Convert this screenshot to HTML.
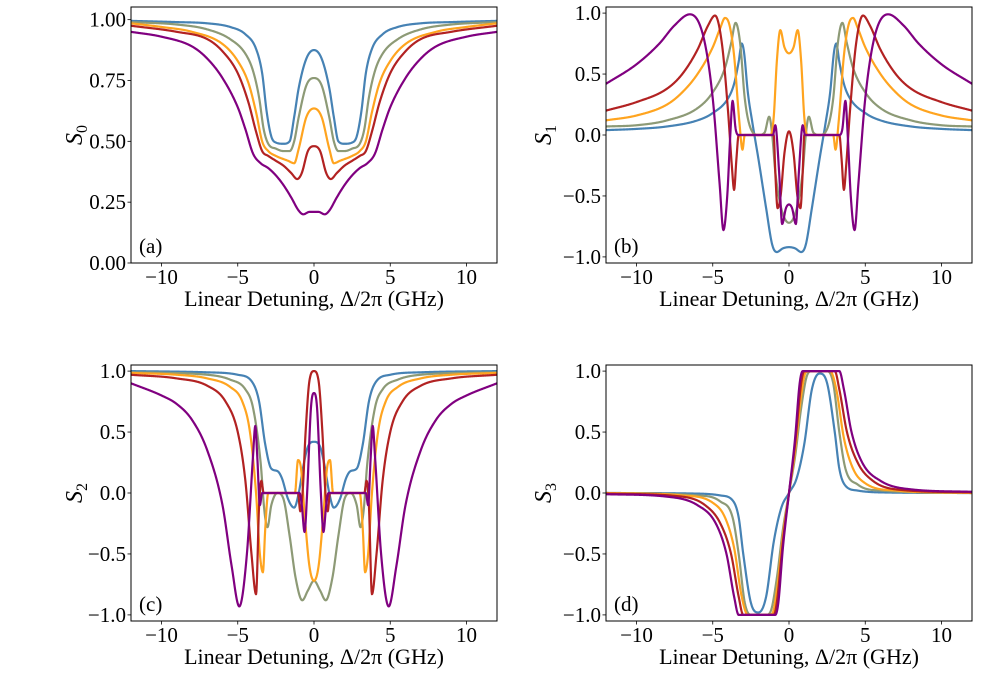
<!DOCTYPE html>
<html><head><meta charset="utf-8">
<style>
html,body{margin:0;padding:0;background:#fff;}
svg{display:block;font-family:"Liberation Serif",serif;}
</style></head>
<body>
<svg id="fig" width="1000" height="694" viewBox="0 0 1000 694" xmlns="http://www.w3.org/2000/svg"></svg>
<script>
// ---------- data (half-curves, x >= 0; panels a-c symmetric, d antisymmetric) ----------
const seriesNames = ["blue","olive","orange","red","purple"];
const seriesColors = ["#4682b4","#8d9a76","#ffa41f","#b22222","#800080"];
const xTicks = [-10,-5,0,5,10];
const xTickLabels = ["\u221210","\u22125","0","5","10"];
const aTicks = [0,0.25,0.5,0.75,1];
const aTickLabels = ["0.00","0.25","0.50","0.75","1.00"];
const bTicks = [-1,-0.5,0,0.5,1];
const bTickLabels = ["\u22121.0","\u22120.5","0.0","0.5","1.0"];

const a_blue=[[0,0.875],[0.5,0.84],[1,0.72],[1.3,0.6],[1.6,0.5],[2,0.49],[2.5,0.495],[2.8,0.52],[3.1,0.62],[3.4,0.78],[3.8,0.88],[4.5,0.94],[5.5,0.97],[7,0.985],[9,0.99],[12,0.995]];
const a_olive=[[0,0.76],[0.5,0.73],[1,0.6],[1.3,0.5],[1.6,0.46],[2,0.46],[2.5,0.47],[3,0.49],[3.3,0.55],[3.6,0.68],[4,0.79],[4.5,0.86],[5.5,0.92],[7,0.96],[9,0.98],[12,0.99]];
const a_orange=[[0,0.635],[0.5,0.6],[1,0.47],[1.3,0.41],[1.7,0.42],[2.5,0.44],[3,0.46],[3.4,0.5],[3.8,0.62],[4.3,0.74],[5,0.83],[6,0.9],[8,0.95],[10,0.97],[12,0.985]];
const a_red=[[0,0.48],[0.4,0.46],[0.8,0.37],[1.1,0.345],[1.5,0.37],[2,0.4],[2.5,0.42],[3,0.44],[3.4,0.46],[3.8,0.54],[4.3,0.66],[5,0.78],[6,0.87],[7,0.92],[9,0.95],[12,0.975]];
const a_purple=[[0,0.21],[0.3,0.21],[0.7,0.2],[1,0.215],[1.5,0.27],[2,0.32],[2.5,0.36],[3,0.39],[3.5,0.41],[4,0.45],[4.5,0.55],[5,0.64],[6,0.76],[7,0.84],[8,0.89],[10,0.93],[12,0.95]];

const b_blue=[[0,-0.92],[0.4,-0.93],[0.8,-0.96],[1.1,-0.9],[1.5,-0.6],[2,-0.2],[2.4,0.1],[2.7,0.35],[2.95,0.68],[3.1,0.75],[3.3,0.6],[3.6,0.42],[4,0.3],[5,0.18],[6,0.12],[8,0.07],[10,0.05],[12,0.04]];
const b_olive=[[0,-0.72],[0.3,-0.68],[0.6,-0.55],[0.9,-0.3],[1.1,0.0],[1.3,0.15],[1.6,0.02],[2,0.0],[2.5,0.05],[2.9,0.3],[3.2,0.75],[3.5,0.92],[3.8,0.75],[4.2,0.55],[5,0.35],[6,0.22],[8,0.12],[10,0.08],[12,0.07]];
const b_orange=[[0,0.67],[0.3,0.72],[0.57,0.86],[0.8,0.6],[1,0.15],[1.2,0.0],[2.9,0.0],[3.05,-0.12],[3.25,0.1],[3.6,0.65],[3.9,0.9],[4.2,0.96],[4.5,0.88],[5,0.72],[6,0.5],[7,0.35],[8,0.25],[10,0.16],[12,0.12]];
const b_red=[[0,0.03],[0.3,-0.15],[0.55,-0.5],[0.75,-0.6],[0.9,-0.3],[1.0,0.0],[3.3,0.0],[3.45,-0.2],[3.6,-0.45],[3.75,-0.25],[4.0,0.2],[4.4,0.75],[4.85,0.98],[5.3,0.9],[6,0.7],[7,0.5],[8,0.38],[10,0.27],[12,0.2]];
const b_purple=[[0,-0.57],[0.2,-0.6],[0.45,-0.73],[0.65,-0.3],[0.9,0.08],[1.05,0.0],[3.3,0.0],[3.5,0.05],[3.7,0.28],[3.85,0.0],[4.05,-0.5],[4.3,-0.78],[4.55,-0.4],[5,0.3],[5.6,0.8],[6.5,0.99],[7.5,0.9],[8.5,0.75],[10,0.58],[12,0.42]];

const c_blue=[[0,0.42],[0.4,0.38],[0.7,0.22],[1.0,0.0],[1.3,-0.12],[1.7,-0.05],[2.1,0.12],[2.4,0.18],[2.8,0.2],[3.2,0.4],[3.6,0.75],[4.0,0.9],[5,0.97],[7,0.99],[12,1.0]];
const c_olive=[[0,-0.72],[0.4,-0.8],[0.77,-0.88],[1.2,-0.7],[1.6,-0.35],[2,-0.05],[2.4,0.0],[2.8,-0.1],[3.05,-0.28],[3.25,-0.15],[3.5,0.25],[4,0.7],[4.5,0.85],[5.5,0.93],[7,0.97],[12,0.99]];
const c_orange=[[0,-0.72],[0.3,-0.6],[0.6,-0.2],[0.85,0.2],[1.05,0.27],[1.25,0.0],[3.0,0.0],[3.2,-0.3],[3.35,-0.65],[3.55,-0.5],[3.8,0.0],[4.2,0.5],[4.7,0.75],[5.5,0.87],[7,0.94],[9,0.97],[12,0.985]];
const c_red=[[0,1.0],[0.3,0.92],[0.55,0.5],[0.75,0.0],[0.9,-0.15],[1.05,0.0],[3.3,0.0],[3.45,0.1],[3.6,-0.1],[3.8,-0.83],[4.1,-0.5],[4.5,0.1],[5,0.5],[5.8,0.75],[7,0.88],[9,0.94],[12,0.97]];
const c_purple=[[0,0.82],[0.2,0.7],[0.45,0.0],[0.62,-0.32],[0.8,-0.1],[0.95,0.0],[3.4,0.0],[3.55,-0.1],[3.72,0.3],[3.85,0.55],[4.0,0.3],[4.4,-0.5],[4.9,-0.93],[5.4,-0.6],[6,-0.1],[7,0.35],[8,0.6],[9,0.73],[10,0.8],[12,0.9]];

const d_blue=[[0,0.0],[0.5,0.12],[1,0.4],[1.5,0.85],[2,0.98],[2.5,0.9],[3,0.5],[3.3,0.2],[3.7,0.06],[4.5,0.02],[6,0.005],[12,0]];
const d_olive=[[0,0],[0.4,0.3],[0.8,0.7],[1.2,0.97],[1.5,1.0],[2.5,1.0],[2.9,0.9],[3.3,0.5],[3.7,0.2],[4.5,0.07],[6,0.02],[12,0]];
const d_orange=[[0,0],[0.4,0.35],[0.8,0.8],[1.1,0.99],[1.5,1.0],[2.7,1.0],[3.1,0.85],[3.6,0.45],[4.2,0.2],[5,0.08],[7,0.02],[12,0]];
const d_red=[[0,0],[0.4,0.4],[0.8,0.9],[1.0,1.0],[3.0,1.0],[3.3,0.85],[3.8,0.5],[4.5,0.25],[5.5,0.1],[7,0.03],[12,0.005]];
const d_purple=[[0,0],[0.4,0.45],[0.7,0.9],[0.9,1.0],[3.3,1.0],[3.6,0.85],[4.1,0.5],[4.8,0.25],[6,0.1],[8,0.03],[12,0.01]];

// ---------- drawing ----------
const NS="http://www.w3.org/2000/svg";
const svg=document.getElementById('fig');
function mk(tag,attrs,parent){const e=document.createElementNS(NS,tag);for(const k in attrs)e.setAttribute(k,attrs[k]);(parent||svg).appendChild(e);return e;}

function fullCurve(half,mode){
  const pts=[];
  for(let i=half.length-1;i>0;i--){const p=half[i];pts.push([-p[0],mode==='anti'?-p[1]:p[1]]);}
  for(const p of half)pts.push(p);
  return pts;
}
function monotone(pts){
  const n=pts.length,d=[],m=[];
  for(let i=0;i<n-1;i++)d.push((pts[i+1][1]-pts[i][1])/(pts[i+1][0]-pts[i][0]));
  m[0]=d[0];m[n-1]=d[n-2];
  for(let i=1;i<n-1;i++){m[i]=(d[i-1]*d[i]<=0)?0:(d[i-1]+d[i])/2;}
  for(let i=0;i<n-1;i++){
    if(d[i]===0){m[i]=0;m[i+1]=0;continue;}
    const a=m[i]/d[i],b=m[i+1]/d[i],s=a*a+b*b;
    if(s>9){const t=3/Math.sqrt(s);m[i]=t*a*d[i];m[i+1]=t*b*d[i];}
  }
  const out=[];
  for(let i=0;i<n-1;i++){
    const x0=pts[i][0],x1=pts[i+1][0],y0=pts[i][1],y1=pts[i+1][1],h=x1-x0;
    const N=Math.max(4,Math.ceil(h*40));
    for(let k=0;k<N;k++){
      const t=k/N,t2=t*t,t3=t2*t;
      const y=(2*t3-3*t2+1)*y0+(t3-2*t2+t)*h*m[i]+(-2*t3+3*t2)*y1+(t3-t2)*h*m[i+1];
      out.push([x0+t*h,y]);
    }
  }
  out.push(pts[n-1]);
  return out;
}

const panels=[
  {id:'a',L:131,R:497,T:7,B:263,ymin:0,ymax:1.052,ticks:aTicks,labels:aTickLabels,ylab:'0',data:[a_blue,a_olive,a_orange,a_red,a_purple],mode:'sym'},
  {id:'b',L:606,R:972,T:7,B:263,ymin:-1.05,ymax:1.05,ticks:bTicks,labels:bTickLabels,ylab:'1',data:[b_blue,b_olive,b_orange,b_red,b_purple],mode:'sym'},
  {id:'c',L:131,R:497,T:365,B:621,ymin:-1.05,ymax:1.05,ticks:bTicks,labels:bTickLabels,ylab:'2',data:[c_blue,c_olive,c_orange,c_red,c_purple],mode:'sym'},
  {id:'d',L:606,R:972,T:365,B:621,ymin:-1.05,ymax:1.05,ticks:bTicks,labels:bTickLabels,ylab:'3',data:[d_blue,d_olive,d_orange,d_red,d_purple],mode:'anti'}
];

panels.forEach(p=>{
  const g=mk('g',{});
  
  
  const xs=v=>p.L+(v+12)/24*(p.R-p.L);
  const ys=v=>p.B-(v-p.ymin)/(p.ymax-p.ymin)*(p.B-p.T);
  const cid='clip-'+p.id;
  const cp=mk('clipPath',{id:cid},g);
  mk('rect',{x:p.L,y:p.T,width:p.R-p.L,height:p.B-p.T},cp);
  p.data.forEach((half,si)=>{
    const pts=monotone(fullCurve(half,p.mode));
    const dstr=pts.map((q,i)=>(i?'L':'M')+xs(q[0]).toFixed(2)+','+ys(q[1]).toFixed(2)).join('');
    const path=mk('path',{d:dstr,fill:'none',stroke:seriesColors[si],'stroke-width':2.2,'clip-path':'url(#'+cid+')','stroke-linejoin':'round'},g);
    
    
  });
  const fr=mk('rect',{x:p.L,y:p.T,width:p.R-p.L,height:p.B-p.T,fill:'none',stroke:'#000','stroke-width':1},g);
  
  
  xTicks.forEach((v,i)=>{
    const x=xs(v);
    mk('line',{x1:x,x2:x,y1:p.B,y2:p.B+3.5,stroke:'#000','stroke-width':0.8},g);
    const t=mk('text',{x:x,y:p.B+21,'text-anchor':'middle','font-size':21},g);
    t.textContent=xTickLabels[i];
    
    
  });
  p.ticks.forEach((v,i)=>{
    const y=ys(v);
    mk('line',{x1:p.L-3.5,x2:p.L,y1:y,y2:y,stroke:'#000','stroke-width':0.8},g);
    const t=mk('text',{x:p.L-5,y:y+7,'text-anchor':'end','font-size':21},g);
    t.textContent=p.labels[i];
    
    
  });
  const xl=mk('text',{x:(p.L+p.R)/2,y:p.B+43,'text-anchor':'middle','font-size':22},g);
  xl.textContent='Linear Detuning, \u0394/2\u03c0 (GHz)';
  
  
  const yc=(p.T+p.B)/2, yx=p.L-(p.id==='a'||p.id==='c'?56:62);
  const yl=mk('text',{transform:'translate('+(yx+7)+','+yc+') rotate(-90)','text-anchor':'middle','font-size':24,'font-style':'italic'},g);
  yl.innerHTML='S<tspan font-size="16" dy="5" font-style="normal">'+p.ylab+'</tspan>';
  
  
  const pl=mk('text',{x:p.L+8,y:p.B-10,'font-size':21},g);
  pl.textContent='('+p.id+')';
  
  
});
</script>
</body></html>
